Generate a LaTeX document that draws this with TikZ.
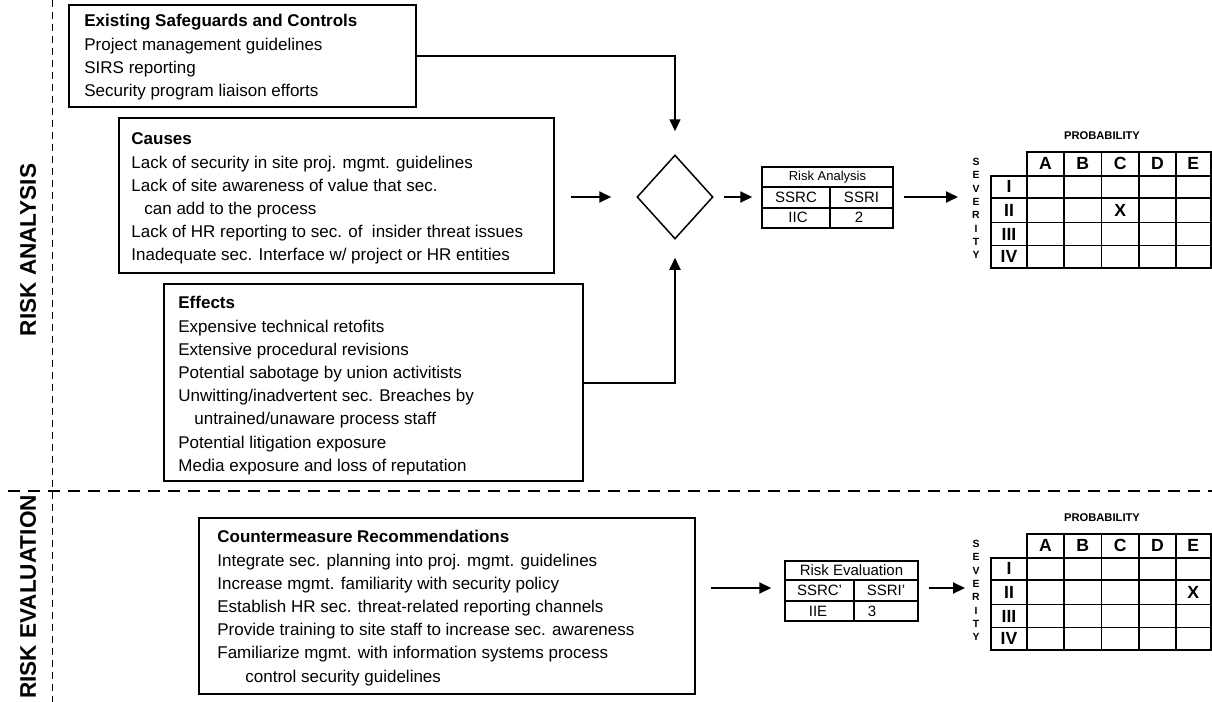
\documentclass[tikz,border=0pt]{standalone}
\usepackage{fontspec}
\setmainfont{Liberation Sans}
\usetikzlibrary{shapes.geometric,arrows.meta}

\tikzset{
  boxframe/.style={draw, line width=0.75pt, inner sep=0pt, rectangle},
  txt/.style={anchor=north west, inner sep=0pt, align=left,
    font=\fontsize{8.5}{11.6}\selectfont},
  flow/.style={line width=1pt, -{Triangle[length=6pt,width=5.5pt]}},
  sidelbl/.style={rotate=90, inner sep=0pt, font=\bfseries\fontsize{11.3}{13}\selectfont},
  sepline/.style={dash pattern=on 3.5pt off 2.5pt, line width=0.5pt},
  phaseline/.style={dash pattern=on 6pt off 4pt, line width=1.25pt},
  celltxt/.style={inner sep=0pt, font=\fontsize{7.5}{9}\selectfont},
  gridthin/.style={line width=0.6pt},
  gridthick/.style={line width=1pt},
  gridlbl/.style={inner sep=0pt, font=\bfseries\fontsize{8.8}{10}\selectfont},
  problbl/.style={inner sep=0pt, font=\bfseries\fontsize{5.6}{7}\selectfont},
  sevlbl/.style={inner sep=0pt, font=\bfseries\fontsize{5.2}{6}\selectfont},
}

% severity / probability grid: #1 name prefix, #2 top of header row, #3 x of the marked cell
\newcommand{\probgrid}[3]{%
  \begin{scope}[shift={(0,#2)}]
    \node[problbl] (#1prob) at (1102,-16) {PROBABILITY};
    \foreach \ch [count=\k] in {S,E,V,E,R,I,T,Y}
      \node[sevlbl] (#1sev\k) at (976,{10+13.3*(\k-1)}) {\ch};
    \draw[gridthin] foreach \xx in {1064,1101.5,1139,1176} {(\xx,0) -- (\xx,116)};
    \draw[gridthin] foreach \yy in {46,70.5,93.5} {(991,\yy) -- (1210.5,\yy)};
    \draw[gridthick] (1027,0) rectangle (1210.5,116);
    \draw[gridthick] (991,23.5) rectangle (1210.5,116);
    \foreach \lab/\xx [count=\k] in {A/1045.5,B/1082.75,C/1120.25,D/1157.5,E/1193.25}
      \node[gridlbl] (#1col\k) at (\xx,11.75) {\lab};
    \foreach \lab/\yy [count=\k] in {I/34.75,II/58.25,III/82,IV/104.75}
      \node[gridlbl] (#1row\k) at (1009,\yy) {\lab};
    \node[gridlbl] (#1mark) at (#3,58.25) {X};
  \end{scope}}

\begin{document}
\begin{tikzpicture}[x=0.5pt,y=-0.5pt]
\useasboundingbox (0,0) rectangle (1212,702);

% phase separators and phase labels
\draw[sepline] (52,0) -- (52,702);
\draw[phaseline] (8,491) -- (1212,491);
\node[sidelbl] (analysislbl) at (28,250) {RISK ANALYSIS};
\node[sidelbl] (evallbl) at (28,597) {RISK EVALUATION};

% input boxes
\node[boxframe, minimum width=173.5pt, minimum height=51pt] (box1) at (242.5,56) {};
\node[txt] (box1txt) at (84,10.5) {\rule{0pt}{8pt}\textbf{Existing Safeguards and Controls}\\
  Project management guidelines\\
  SIRS reporting\\
  Security program liaison efforts};

\node[boxframe, minimum width=217.5pt, minimum height=77.5pt] (causes) at (336.5,195.5) {};
\node[txt] (causestxt) at (131,128.5) {\rule{0pt}{8pt}\textbf{Causes}\\
  Lack of security in site proj. mgmt. guidelines\\
  Lack of site awareness of value that sec.\\
  \hspace*{6.5pt}can add to the process\\
  Lack of HR reporting to sec. of\ \ insider threat issues\\
  Inadequate sec. Interface w/ project or HR entities};

\node[boxframe, minimum width=209.5pt, minimum height=98.5pt] (effects) at (373.5,382.5) {};
\node[txt] (effectstxt) at (178,292.5) {\rule{0pt}{8pt}\textbf{Effects}\\
  Expensive technical retofits\\
  Extensive procedural revisions\\
  Potential sabotage by union activitists\\
  Unwitting/inadvertent sec. Breaches by\\
  \hspace*{8pt}untrained/unaware process staff\\
  Potential litigation exposure\\
  Media exposure and loss of reputation};

\node[boxframe, minimum width=248pt, minimum height=88pt] (counter) at (447,606) {};
\node[txt] (countertxt) at (217,526.5) {\rule{0pt}{8pt}\textbf{Countermeasure Recommendations}\\
  Integrate sec. planning into proj. mgmt. guidelines\\
  Increase mgmt. familiarity with security policy\\
  Establish HR sec. threat-related reporting channels\\
  Provide training to site staff to increase sec. awareness\\
  Familiarize mgmt. with information systems process\\
  \hspace*{14pt}control security guidelines};

% decision diamond
\node[draw, diamond, line width=0.75pt, inner sep=0pt, minimum width=38pt, minimum height=42pt] (dia) at (675,197) {};

% risk analysis table
\node[boxframe, minimum width=65.5pt, minimum height=30.5pt] (ratab) at (827.5,197.5) {};
\draw[gridthin] (762,187) -- (893,187) (762,208) -- (893,208) (830,187) -- (830,228);
\node[celltxt, font=\fontsize{6.5}{8}\selectfont] (rahead) at (827.5,177) {Risk Analysis};
\node[celltxt] (rac1) at (796,197.5) {SSRC};
\node[celltxt] (rac2) at (861.5,197.5) {SSRI};
\node[celltxt] (rav1) at (798,217) {IIC};
\node[celltxt] (rav2) at (859,217) {2};

% risk evaluation table
\node[boxframe, minimum width=66.5pt, minimum height=30pt] (evtab) at (851.5,591) {};
\draw[gridthin] (785,580) -- (918,580) (785,601) -- (918,601) (854,580) -- (854,621);
\node[celltxt] (evhead) at (851.5,570.5) {Risk Evaluation};
\node[celltxt] (evc1) at (819.5,590.5) {SSRC'};
\node[celltxt] (evc2) at (886,590.5) {SSRI'};
\node[celltxt] (evv1) at (818,611) {IIE};
\node[celltxt] (evv2) at (872,611) {3};

% severity / probability grids
\probgrid{ma}{152}{1120.25}
\probgrid{mb}{534}{1193.25}
\coordinate (m1in) at (958,197);
\coordinate (m2in) at (965,588);

% connectors
\draw[flow, line width=0.8pt, shorten >=11.5pt] (box1.east) -| (dia.north);
\draw[flow, shorten <=8pt, shorten >=12.5pt] (causes.east |- dia.west) -- (dia.west);
\draw[flow, shorten >=9pt] (effects.east) -| (dia.south);
\draw[flow, shorten <=5pt, shorten >=4.5pt] (dia.east) -- (ratab.west |- dia.east);
\draw[flow, shorten <=5pt] (ratab.east |- m1in) -- (m1in);
\draw[flow, shorten <=7.5pt, shorten >=6.5pt] (counter.east |- m2in) -- (evtab.west |- m2in);
\draw[flow, shorten <=5pt] (evtab.east |- m2in) -- (m2in);
\end{tikzpicture}
\end{document}
